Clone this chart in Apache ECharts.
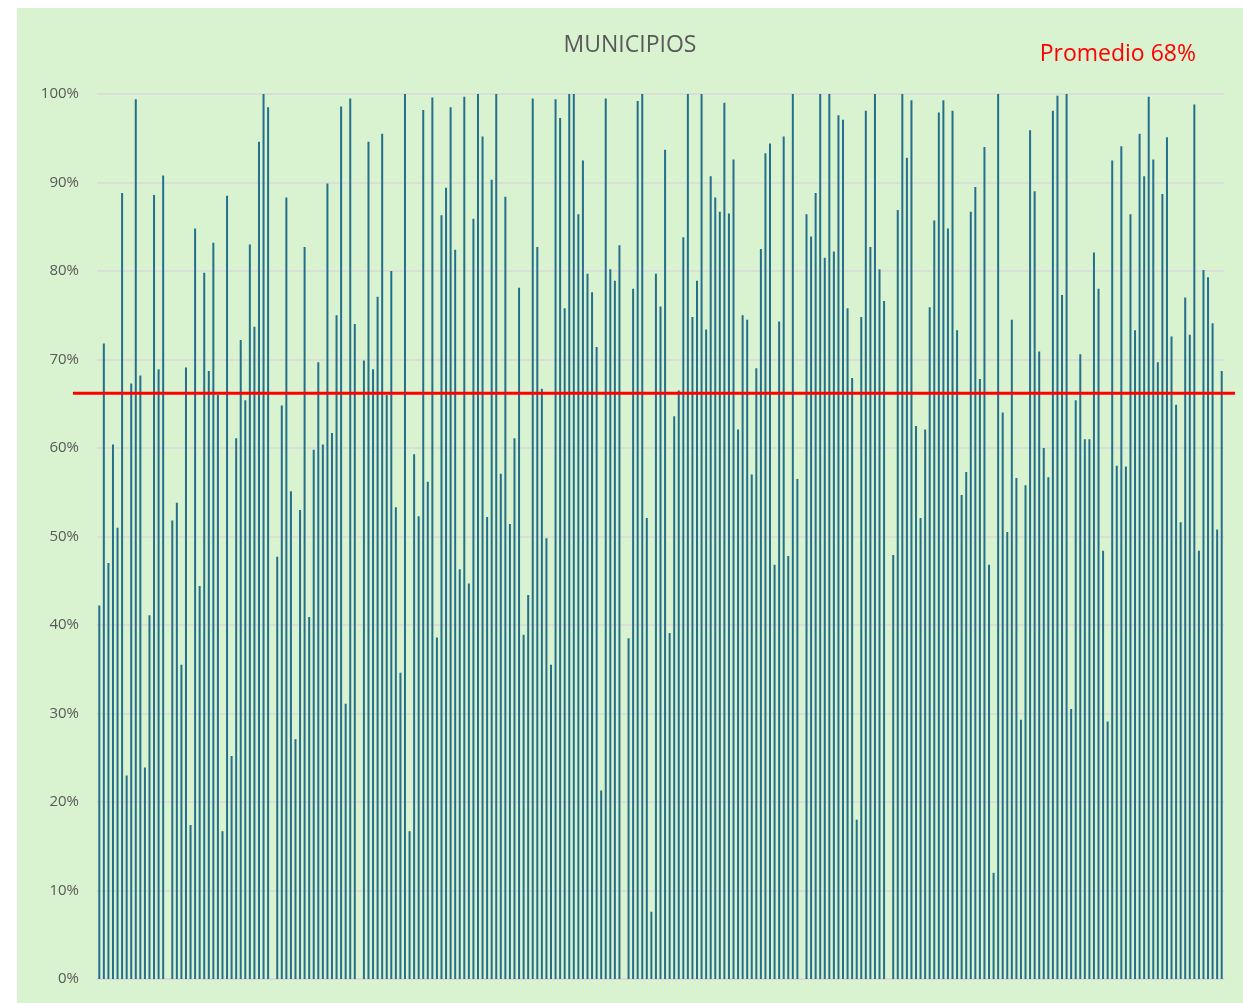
<!DOCTYPE html>
<html>
<head>
<meta charset="utf-8">
<script src="https://cdn.jsdelivr.net/npm/echarts@6/dist/echarts.min.js"></script>
<style>
    html, body { margin: 0; padding: 0; background: #ffffff; }
    #chart { position: absolute; left: 17px; top: 8px; width: 1226px; height: 995px; background: #d9f2d0; }
</style>
</head>
<body>
<div id="chart"></div>
<script>
var chart = echarts.init(document.getElementById('chart'));

// porcentaje por municipio
var valores = [
    42.2, 71.8, 47.0, 60.4, 51.0, 88.8, 23.0, 67.3, 99.4, 68.2,
    23.9, 41.1, 88.6, 68.9, 90.8, 0, 51.8, 53.8, 35.5, 69.1,
    17.4, 84.8, 44.4, 79.8, 68.7, 83.2, 66.0, 16.7, 88.5, 25.2,
    61.1, 72.2, 65.4, 83.0, 73.7, 94.6, 100, 98.5, 0, 47.7,
    64.8, 88.3, 55.1, 27.1, 53.0, 82.7, 40.9, 59.8, 69.7, 60.4,
    89.9, 61.7, 75.0, 98.6, 31.1, 99.5, 74.0, 0, 69.9, 94.6,
    68.9, 77.1, 95.5, 66.0, 80.0, 53.3, 34.6, 100, 16.7, 59.3,
    52.3, 98.2, 56.2, 99.6, 38.6, 86.3, 89.4, 98.5, 82.4, 46.3,
    99.7, 44.7, 85.9, 100, 95.2, 52.2, 90.3, 100, 57.1, 88.4,
    51.4, 61.1, 78.1, 38.9, 43.4, 99.5, 82.7, 66.7, 49.8, 35.5,
    99.4, 97.3, 75.8, 100, 100, 86.4, 92.5, 79.7, 77.6, 71.4,
    21.3, 99.5, 80.2, 78.9, 82.9, 0, 38.5, 78.0, 99.2, 100,
    52.1, 7.6, 79.7, 76.0, 93.7, 39.1, 63.6, 66.5, 83.8, 100,
    74.8, 78.9, 100, 73.4, 90.7, 88.3, 86.7, 99.0, 86.5, 92.6,
    62.1, 75.0, 74.5, 57.0, 69.0, 82.5, 93.3, 94.4, 46.8, 74.3,
    95.2, 47.8, 100, 56.5, 0, 86.4, 83.9, 88.8, 100, 81.5,
    100, 82.2, 97.6, 97.1, 75.8, 67.9, 18.0, 74.8, 98.1, 82.7,
    100, 80.2, 76.6, 0, 47.9, 86.9, 100, 92.8, 99.3, 62.5,
    52.1, 62.1, 75.9, 85.7, 97.9, 99.3, 84.8, 98.1, 73.3, 54.7,
    57.3, 86.7, 89.5, 67.8, 94.0, 46.8, 12.0, 100, 64.0, 50.5,
    74.5, 56.6, 29.3, 55.8, 95.9, 89.0, 70.9, 60.0, 56.7, 98.1,
    99.8, 77.3, 100, 30.5, 65.4, 70.6, 61.0, 61.0, 82.1, 78.0,
    48.4, 29.1, 92.5, 58.0, 94.1, 57.9, 86.4, 73.3, 95.5, 90.7,
    99.7, 92.6, 69.7, 88.7, 95.1, 72.6, 64.9, 51.6, 77.0, 72.8,
    98.8, 48.4, 80.1, 79.3, 74.1, 50.8, 68.7
];

var municipios = valores.map(function (v, i) { return 'Municipio ' + (i + 1); });

// linea roja de referencia (posicion dibujada en el grafico)
var promedioLinea = [66.2, 66.2];
var promedioTexto = 'Promedio 68%';

var option = {
    animation: false,
    backgroundColor: '#d9f2d0',
    title: [
        {
            text: 'MUNICIPIOS',
            left: 'center',
            top: 21,
            textStyle: {
                color: '#595959',
                fontSize: 23,
                fontWeight: 'normal',
                fontFamily: 'Open Sans'
            }
        },
        {
            text: promedioTexto,
            right: 42,
            top: 30,
            textStyle: {
                color: '#ff0000',
                fontSize: 23,
                fontWeight: 'normal',
                fontFamily: 'Open Sans'
            }
        }
    ],
    grid: [
        { left: 80, right: 19, top: 86, bottom: 24 },
        { left: 56, right: 8, top: 86, bottom: 24 }
    ],
    xAxis: [
        {
            type: 'category',
            gridIndex: 0,
            data: municipios,
            axisLine: { lineStyle: { color: '#d9d9d9', width: 1.5 } },
            axisTick: { show: false },
            axisLabel: { show: false }
        },
        {
            type: 'value',
            gridIndex: 1,
            min: 0,
            max: 1,
            show: false
        }
    ],
    yAxis: [
        {
            type: 'value',
            gridIndex: 0,
            min: 0,
            max: 100,
            interval: 10,
            axisLine: { show: false },
            axisTick: { show: false },
            axisLabel: {
                formatter: '{value}%',
                color: '#595959',
                fontSize: 15,
                margin: 18,
                fontFamily: 'Open Sans'
            },
            splitLine: { lineStyle: { color: '#d9d9d9', width: 1.5 } }
        },
        {
            type: 'value',
            gridIndex: 1,
            min: 0,
            max: 100,
            show: false
        }
    ],
    series: [
        {
            name: 'Municipios',
            type: 'bar',
            xAxisIndex: 0,
            yAxisIndex: 0,
            barWidth: 2,
            itemStyle: { color: '#24708c' },
            data: valores
        },
        {
            name: 'Promedio',
            type: 'line',
            xAxisIndex: 1,
            yAxisIndex: 1,
            symbol: 'none',
            lineStyle: { color: '#ff0000', width: 3 },
            data: [[0, promedioLinea[0]], [1, promedioLinea[1]]]
        }
    ]
};

chart.setOption(option);
</script>
</body>
</html>
